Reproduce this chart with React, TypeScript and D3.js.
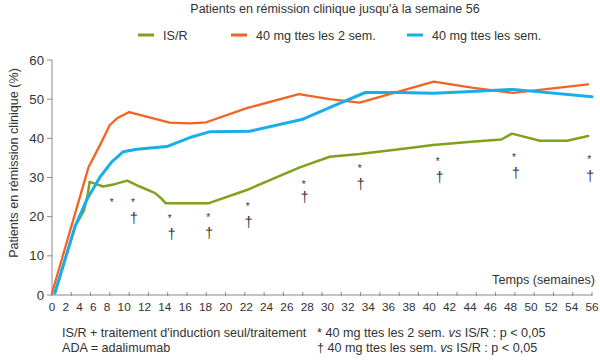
import React from 'react';
import * as d3 from 'd3';

const titleText = "Patients en rémission clinique jusqu'à la semaine 56";
const yAxisLabel = 'Patients en rémission clinique (%)';
const xAxisLabel = 'Temps (semaines)';
const seriesNames = ['IS/R', '40 mg ttes les 2 sem.', '40 mg ttes les sem.'];
const seriesColors = ['#7fa11b', '#f06424', '#18aeea'];
const seriesWidths = [2.5, 2.3, 3];

const isrWeeks = [0.3, 2.4, 3.3, 3.7, 3.9, 4.6, 5.3, 6.5, 7.8, 9.1, 10.7, 11.4, 11.8, 16.2, 20.2, 25.7, 28.8, 31.9, 37.3, 39.5, 43.5, 46.6, 47.7, 50.6, 53.4, 55.6];
const isrValues = [0.5, 17.6, 21.5, 25.5, 28.9, 28.3, 27.7, 28.3, 29.2, 27.7, 26.0, 24.5, 23.4, 23.4, 26.8, 32.6, 35.3, 36.0, 37.6, 38.3, 39.1, 39.7, 41.2, 39.4, 39.4, 40.6];

const eow40Weeks = [0, 3.8, 5.0, 6.0, 6.8, 8.0, 10.5, 12.2, 14.3, 16.0, 20.2, 25.6, 28.8, 31.9, 39.6, 43.7, 47.8, 55.6];
const eow40Values = [0.5, 32.7, 38.4, 43.4, 45.2, 46.7, 45.1, 44.0, 43.8, 44.1, 47.7, 51.3, 50.0, 49.1, 54.5, 52.9, 51.6, 53.8];

const ew40Weeks = [0.3, 2.4, 3.6, 5.0, 6.2, 7.4, 8.8, 11.9, 14.3, 16.4, 20.5, 25.9, 29.2, 32.5, 36.1, 39.5, 43.0, 47.8, 56.0];
const ew40Values = [0.5, 17.6, 24.3, 30.2, 34.0, 36.6, 37.2, 37.9, 40.2, 41.7, 41.8, 44.8, 48.3, 51.7, 51.7, 51.5, 51.9, 52.5, 50.6];

const starWeeks = [6.2, 8.4, 12.2, 16.2, 20.3, 26.1, 31.9, 40.0, 47.9, 55.7];
const starLevels = [24.1, 24.1, 20.2, 20.4, 23.2, 28.7, 32.9, 34.8, 35.7, 35.2];
const daggerWeeks = [8.5, 12.4, 16.3, 20.4, 26.2, 32.0, 40.2, 48.1, 55.8];
const daggerLevels = [19.3, 15.3, 15.6, 18.3, 24.7, 28.1, 29.9, 30.8, 30.2];

const xTickValues = d3.range(0, 57, 2);
const yTickValues = d3.range(0, 61, 10);

const footLeft = ["IS/R + traitement d'induction seul/traitement", 'ADA = adalimumab'];
const footRightStar = ['* 40 mg ttes les 2 sem. ', 'vs', ' IS/R : p < 0,05'];
const footRightDagger = ['† 40 mg ttes les sem. ', 'vs', ' IS/R : p < 0,05'];

const FONT = '"Liberation Sans", Arial, Helvetica, sans-serif';
const TEXT = '#333333';
const AXIS = '#8a8a8a';

export default function App() {
  const W = 600;
  const H = 360;
  const x = d3.scaleLinear().domain([0, 56]).range([52, 592]);
  const y = d3.scaleLinear().domain([0, 60]).range([295, 60]);

  const series = [
    { weeks: isrWeeks, values: isrValues },
    { weeks: eow40Weeks, values: eow40Values },
    { weeks: ew40Weeks, values: ew40Values },
  ];
  const line = d3
    .line<[number, number]>()
    .x((d) => x(d[0]))
    .y((d) => y(d[1]))
    .curve(d3.curveLinear);

  // x tick labels laid out like a typeset string between the first and last tick
  const xfs = 11.8;
  const digitW = 0.556 * xfs;
  const widths = xTickValues.map((v) => String(v).length * digitW);
  const span = x(56) - x(0);
  let sumHalf = 0;
  for (let i = 1; i < widths.length; i++) sumHalf += widths[i - 1] / 2 + widths[i] / 2;
  const gap = (span - sumHalf) / (widths.length - 1);
  const labelX: number[] = [];
  let cx = x(0);
  widths.forEach((w, i) => {
    if (i > 0) cx += widths[i - 1] / 2 + gap + w / 2;
    labelX.push(cx);
  });

  const legendX = [138, 231, 407];
  const legendY = 35;

  const starFs = 10;
  const dagFs = 14;

  return (
    <svg
      width={W}
      height={H}
      viewBox={`0 0 ${W} ${H}`}
      style={{ position: 'absolute', left: 0, top: 0, background: '#fff' }}
      fontFamily={FONT}
    >
      <rect width={W} height={H} fill="#fff" />
      <text x={335} y={13} textAnchor="middle" fontSize={12.5} fill={TEXT}>
        {titleText}
      </text>

      {seriesNames.map((name, i) => (
        <g key={name}>
          <line
            x1={legendX[i]}
            x2={legendX[i] + 16}
            y1={legendY}
            y2={legendY}
            stroke={seriesColors[i]}
            strokeWidth={3}
          />
          <text x={legendX[i] + 25} y={legendY + 4.5} fontSize={12.6} fill={TEXT}>
            {name}
          </text>
        </g>
      ))}

      {/* y axis */}
      <line x1={x(0)} x2={x(0)} y1={y(60)} y2={y(0)} stroke={AXIS} strokeWidth={1} />
      {yTickValues.map((v) => (
        <g key={'yt' + v}>
          <line x1={x(0) - 5} x2={x(0)} y1={y(v)} y2={y(v)} stroke={AXIS} strokeWidth={1} />
          <text x={x(0) - 8} y={y(v) + 4.6} textAnchor="end" fontSize={13.2} fill={TEXT}>
            {v}
          </text>
        </g>
      ))}
      <text
        transform={`translate(14, 163) rotate(-90)`}
        textAnchor="middle"
        fontSize={12.6}
        fill={TEXT}
        dominantBaseline="central"
      >
        {yAxisLabel}
      </text>

      {/* x axis */}
      <line x1={x(0)} x2={x(56)} y1={y(0)} y2={y(0)} stroke={AXIS} strokeWidth={1} />
      {xTickValues.map((v, i) => (
        <g key={'xt' + v}>
          <line x1={x(v)} x2={x(v)} y1={y(0) - 3} y2={y(0) + 1} stroke={AXIS} strokeWidth={1} />
          <text x={labelX[i]} y={y(0) + 16} textAnchor="middle" fontSize={xfs} fill={TEXT}>
            {v}
          </text>
        </g>
      ))}
      <text x={595} y={y(0) - 11} textAnchor="end" fontSize={12.6} fill={TEXT}>
        {xAxisLabel}
      </text>

      {/* series */}
      {series.map((s, i) => (
        <path
          key={'s' + i}
          d={line(s.weeks.map((w, j) => [w, s.values[j]] as [number, number])) || ''}
          fill="none"
          stroke={seriesColors[i]}
          strokeWidth={seriesWidths[i]}
          strokeLinejoin="round"
          strokeLinecap="round"
        />
      ))}

      {/* significance markers */}
      {starWeeks.map((w, i) => (
        <text
          key={'st' + i}
          x={x(w)}
          y={y(starLevels[i]) + 0.58 * starFs}
          textAnchor="middle"
          fontSize={starFs}
          fill={TEXT}
        >
          *
        </text>
      ))}
      {daggerWeeks.map((w, i) => (
        <text
          key={'dg' + i}
          x={x(w)}
          y={y(daggerLevels[i]) + 0.29 * dagFs}
          textAnchor="middle"
          fontSize={dagFs}
          fill={TEXT}
        >
          †
        </text>
      ))}

      {/* footnotes */}
      <text x={62} y={337} fontSize={12.6} fill={TEXT}>
        {footLeft[0]}
      </text>
      <text x={62} y={352} fontSize={12.6} fill={TEXT}>
        {footLeft[1]}
      </text>
      <text x={317} y={337} fontSize={12.6} fill={TEXT}>
        {footRightStar[0]}
        <tspan fontStyle="italic">{footRightStar[1]}</tspan>
        {footRightStar[2]}
      </text>
      <text x={317} y={352} fontSize={12.6} fill={TEXT}>
        {footRightDagger[0]}
        <tspan fontStyle="italic">{footRightDagger[1]}</tspan>
        {footRightDagger[2]}
      </text>
    </svg>
  );
}
